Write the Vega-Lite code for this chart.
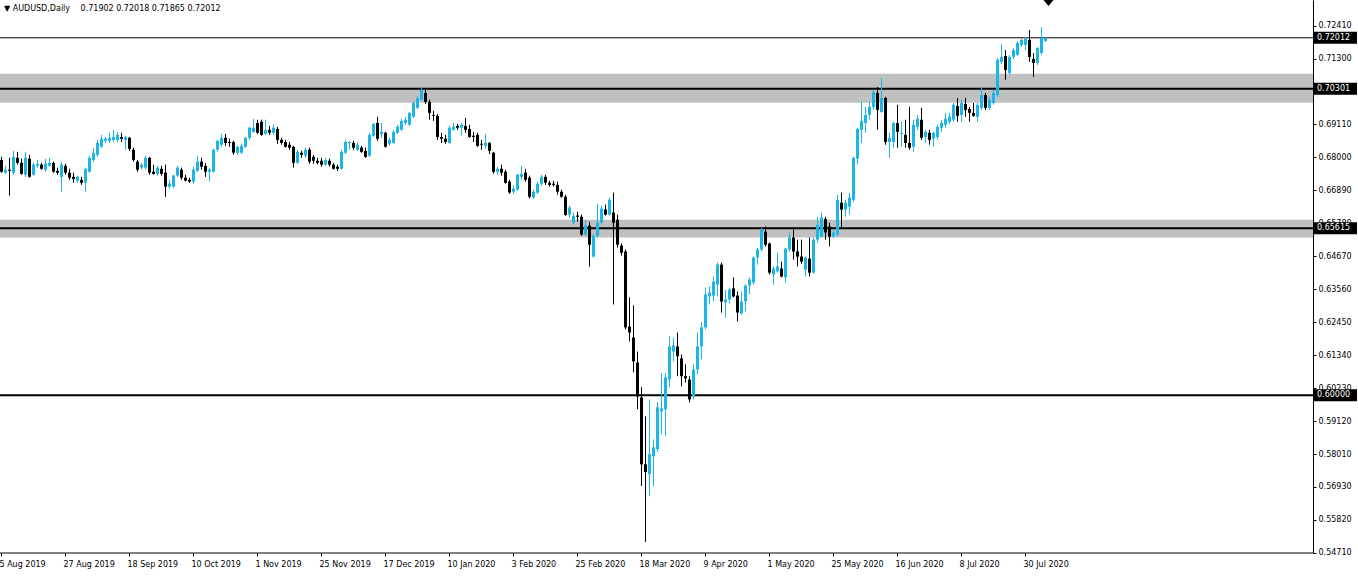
{
"$schema":"https://vega.github.io/schema/vega-lite/v6.json",
"width":1313,"height":553,
"autosize":{"type":"none"},
"padding":{"left":0,"top":0,"right":45,"bottom":24},
"background":"white",
"config":{"view":{"stroke":null},"font":"DejaVu Sans","axis":{"labelFont":"DejaVu Sans","labelFontSize":8,"labelColor":"black","labelOverlap":false},"axisY":{"labelOverlap":false,"labelBound":false,"labelFlush":false,"tickCount":100}},
"title":{"text":"▼ AUDUSD,Daily\u2003 0.71902 0.72018 0.71865 0.72012","anchor":"start","frame":"group","orient":"top","offset":-13,"fontSize":8,"font":"DejaVu Sans","fontWeight":"normal","color":"black","dx":4},
"datasets":{
"zones":[{"top":0.7080,"bottom":0.6983},{"top":0.6590,"bottom":0.6530}],
"levels":[{"price":0.70301},{"price":0.65615},{"price":0.60000}],
"bid":[{"price":0.72012}],
"tags":[{"price":0.72012},{"price":0.70301},{"price":0.65615},{"price":0.60000}],
"candles":[
{"d":"2019-08-05","o":0.6791,"h":0.6801,"l":0.6748,"c":0.6751},
{"d":"2019-08-06","o":0.6748,"h":0.6771,"l":0.6744,"c":0.6758},
{"d":"2019-08-07","o":0.6758,"h":0.6798,"l":0.6671,"c":0.6754},
{"d":"2019-08-08","o":0.6748,"h":0.6822,"l":0.6741,"c":0.6801},
{"d":"2019-08-09","o":0.6798,"h":0.6818,"l":0.6775,"c":0.6781},
{"d":"2019-08-12","o":0.6781,"h":0.6795,"l":0.6741,"c":0.6744},
{"d":"2019-08-13","o":0.6741,"h":0.6818,"l":0.6734,"c":0.6798},
{"d":"2019-08-14","o":0.6795,"h":0.6808,"l":0.6731,"c":0.6734},
{"d":"2019-08-15","o":0.6741,"h":0.6781,"l":0.6738,"c":0.6775},
{"d":"2019-08-16","o":0.6771,"h":0.6791,"l":0.6764,"c":0.6778},
{"d":"2019-08-19","o":0.6775,"h":0.6781,"l":0.6758,"c":0.6761},
{"d":"2019-08-20","o":0.6758,"h":0.6795,"l":0.6751,"c":0.6778},
{"d":"2019-08-21","o":0.6771,"h":0.6798,"l":0.6768,"c":0.6781},
{"d":"2019-08-22","o":0.6781,"h":0.6785,"l":0.6748,"c":0.6751},
{"d":"2019-08-23","o":0.6754,"h":0.6765,"l":0.6741,"c":0.6748},
{"d":"2019-08-26","o":0.6734,"h":0.6785,"l":0.6684,"c":0.6775},
{"d":"2019-08-27","o":0.6771,"h":0.6778,"l":0.6741,"c":0.6748},
{"d":"2019-08-28","o":0.6748,"h":0.6761,"l":0.6724,"c":0.6731},
{"d":"2019-08-29","o":0.6734,"h":0.6748,"l":0.6714,"c":0.6727},
{"d":"2019-08-30","o":0.6721,"h":0.6738,"l":0.6714,"c":0.6734},
{"d":"2019-09-02","o":0.6724,"h":0.6734,"l":0.6707,"c":0.6714},
{"d":"2019-09-03","o":0.6714,"h":0.6765,"l":0.6684,"c":0.6761},
{"d":"2019-09-04","o":0.6751,"h":0.6805,"l":0.6748,"c":0.6798},
{"d":"2019-09-05","o":0.6791,"h":0.6832,"l":0.6785,"c":0.6815},
{"d":"2019-09-06","o":0.6808,"h":0.6858,"l":0.6801,"c":0.6848},
{"d":"2019-09-09","o":0.6835,"h":0.6875,"l":0.6832,"c":0.6862},
{"d":"2019-09-10","o":0.6855,"h":0.6868,"l":0.6848,"c":0.6862},
{"d":"2019-09-11","o":0.6855,"h":0.6882,"l":0.6848,"c":0.6865},
{"d":"2019-09-12","o":0.6858,"h":0.6892,"l":0.6851,"c":0.6868},
{"d":"2019-09-13","o":0.6858,"h":0.6885,"l":0.6851,"c":0.6875},
{"d":"2019-09-16","o":0.6868,"h":0.6882,"l":0.6851,"c":0.6862},
{"d":"2019-09-17","o":0.6858,"h":0.6872,"l":0.6825,"c":0.6868},
{"d":"2019-09-18","o":0.6865,"h":0.6868,"l":0.6821,"c":0.6828},
{"d":"2019-09-19","o":0.6825,"h":0.6832,"l":0.6785,"c":0.6791},
{"d":"2019-09-20","o":0.6785,"h":0.6791,"l":0.6751,"c":0.6758},
{"d":"2019-09-23","o":0.6765,"h":0.6781,"l":0.6758,"c":0.6775},
{"d":"2019-09-24","o":0.6765,"h":0.6805,"l":0.6758,"c":0.6798},
{"d":"2019-09-25","o":0.6798,"h":0.6801,"l":0.6741,"c":0.6748},
{"d":"2019-09-26","o":0.6751,"h":0.6775,"l":0.6741,"c":0.6744},
{"d":"2019-09-27","o":0.6744,"h":0.6771,"l":0.6738,"c":0.6765},
{"d":"2019-09-30","o":0.6761,"h":0.6771,"l":0.6738,"c":0.6744},
{"d":"2019-10-01","o":0.6748,"h":0.6775,"l":0.6667,"c":0.6701},
{"d":"2019-10-02","o":0.6701,"h":0.6724,"l":0.6694,"c":0.6711},
{"d":"2019-10-03","o":0.6701,"h":0.6741,"l":0.6697,"c":0.6738},
{"d":"2019-10-04","o":0.6738,"h":0.6771,"l":0.6734,"c":0.6765},
{"d":"2019-10-07","o":0.6758,"h":0.6765,"l":0.6724,"c":0.6731},
{"d":"2019-10-08","o":0.6731,"h":0.6741,"l":0.6718,"c":0.6721},
{"d":"2019-10-09","o":0.6724,"h":0.6731,"l":0.6714,"c":0.6718},
{"d":"2019-10-10","o":0.6718,"h":0.6768,"l":0.6711,"c":0.6758},
{"d":"2019-10-11","o":0.6754,"h":0.6805,"l":0.6751,"c":0.6785},
{"d":"2019-10-14","o":0.6785,"h":0.6798,"l":0.6758,"c":0.6768},
{"d":"2019-10-15","o":0.6771,"h":0.6781,"l":0.6734,"c":0.6751},
{"d":"2019-10-16","o":0.6751,"h":0.6765,"l":0.6718,"c":0.6758},
{"d":"2019-10-17","o":0.6751,"h":0.6828,"l":0.6748,"c":0.6825},
{"d":"2019-10-18","o":0.6825,"h":0.6858,"l":0.6818,"c":0.6855},
{"d":"2019-10-21","o":0.6842,"h":0.6878,"l":0.6835,"c":0.6865},
{"d":"2019-10-22","o":0.6865,"h":0.6878,"l":0.6838,"c":0.6848},
{"d":"2019-10-23","o":0.6851,"h":0.6862,"l":0.6835,"c":0.6848},
{"d":"2019-10-24","o":0.6851,"h":0.6855,"l":0.6808,"c":0.6815},
{"d":"2019-10-25","o":0.6815,"h":0.6838,"l":0.6808,"c":0.6835},
{"d":"2019-10-28","o":0.6815,"h":0.6845,"l":0.6811,"c":0.6838},
{"d":"2019-10-29","o":0.6835,"h":0.6868,"l":0.6832,"c":0.6865},
{"d":"2019-10-30","o":0.6865,"h":0.6902,"l":0.6858,"c":0.6899},
{"d":"2019-10-31","o":0.6885,"h":0.6929,"l":0.6882,"c":0.6899},
{"d":"2019-11-01","o":0.6915,"h":0.6926,"l":0.6878,"c":0.6882},
{"d":"2019-11-04","o":0.6919,"h":0.6926,"l":0.6872,"c":0.6875},
{"d":"2019-11-05","o":0.6878,"h":0.6926,"l":0.6875,"c":0.6892},
{"d":"2019-11-06","o":0.6892,"h":0.6905,"l":0.6875,"c":0.6882},
{"d":"2019-11-07","o":0.6882,"h":0.6909,"l":0.6875,"c":0.6899},
{"d":"2019-11-08","o":0.6895,"h":0.6902,"l":0.6845,"c":0.6858},
{"d":"2019-11-11","o":0.6858,"h":0.6865,"l":0.6842,"c":0.6848},
{"d":"2019-11-12","o":0.6851,"h":0.6858,"l":0.6832,"c":0.6835},
{"d":"2019-11-13","o":0.6842,"h":0.6851,"l":0.6825,"c":0.6832},
{"d":"2019-11-14","o":0.6835,"h":0.6838,"l":0.6765,"c":0.6781},
{"d":"2019-11-15","o":0.6781,"h":0.6825,"l":0.6778,"c":0.6818},
{"d":"2019-11-18","o":0.6815,"h":0.6822,"l":0.6798,"c":0.6808},
{"d":"2019-11-19","o":0.6805,"h":0.6832,"l":0.6798,"c":0.6825},
{"d":"2019-11-20","o":0.6825,"h":0.6832,"l":0.6778,"c":0.6785},
{"d":"2019-11-21","o":0.6801,"h":0.6808,"l":0.6778,"c":0.6788},
{"d":"2019-11-22","o":0.6788,"h":0.6798,"l":0.6775,"c":0.6781},
{"d":"2019-11-25","o":0.6788,"h":0.6798,"l":0.6768,"c":0.6775},
{"d":"2019-11-26","o":0.6775,"h":0.6798,"l":0.6771,"c":0.6791},
{"d":"2019-11-27","o":0.6788,"h":0.6795,"l":0.6768,"c":0.6775},
{"d":"2019-11-28","o":0.6775,"h":0.6781,"l":0.6758,"c":0.6761},
{"d":"2019-11-29","o":0.6768,"h":0.6775,"l":0.6754,"c":0.6761},
{"d":"2019-12-02","o":0.6761,"h":0.6825,"l":0.6758,"c":0.6818},
{"d":"2019-12-03","o":0.6815,"h":0.6858,"l":0.6811,"c":0.6851},
{"d":"2019-12-04","o":0.6848,"h":0.6855,"l":0.6825,"c":0.6851},
{"d":"2019-12-05","o":0.6848,"h":0.6855,"l":0.6825,"c":0.6832},
{"d":"2019-12-06","o":0.6825,"h":0.6851,"l":0.6821,"c":0.6842},
{"d":"2019-12-09","o":0.6832,"h":0.6838,"l":0.6815,"c":0.6818},
{"d":"2019-12-10","o":0.6821,"h":0.6832,"l":0.6798,"c":0.6801},
{"d":"2019-12-11","o":0.6805,"h":0.6882,"l":0.6801,"c":0.6875},
{"d":"2019-12-12","o":0.6872,"h":0.6915,"l":0.6868,"c":0.6912},
{"d":"2019-12-13","o":0.6915,"h":0.6936,"l":0.6855,"c":0.6862},
{"d":"2019-12-16","o":0.6878,"h":0.6915,"l":0.6865,"c":0.6885},
{"d":"2019-12-17","o":0.6882,"h":0.6885,"l":0.6832,"c":0.6835},
{"d":"2019-12-18","o":0.6845,"h":0.6865,"l":0.6838,"c":0.6858},
{"d":"2019-12-19","o":0.6848,"h":0.6892,"l":0.6845,"c":0.6885},
{"d":"2019-12-20","o":0.6882,"h":0.6909,"l":0.6878,"c":0.6902},
{"d":"2019-12-23","o":0.6892,"h":0.6929,"l":0.6889,"c":0.6922},
{"d":"2019-12-24","o":0.6915,"h":0.6936,"l":0.6909,"c":0.6926},
{"d":"2019-12-26","o":0.6909,"h":0.6952,"l":0.6905,"c":0.6949},
{"d":"2019-12-27","o":0.6936,"h":0.6989,"l":0.6932,"c":0.6982},
{"d":"2019-12-30","o":0.6966,"h":0.7006,"l":0.6962,"c":0.6999},
{"d":"2019-12-31","o":0.6993,"h":0.7033,"l":0.6989,"c":0.7026},
{"d":"2020-01-02","o":0.7016,"h":0.7026,"l":0.6979,"c":0.6986},
{"d":"2020-01-03","o":0.6986,"h":0.6993,"l":0.6926,"c":0.6949},
{"d":"2020-01-06","o":0.6942,"h":0.6956,"l":0.6922,"c":0.6939},
{"d":"2020-01-07","o":0.6939,"h":0.6945,"l":0.6858,"c":0.6868},
{"d":"2020-01-08","o":0.6868,"h":0.6882,"l":0.6848,"c":0.6862},
{"d":"2020-01-09","o":0.6862,"h":0.6875,"l":0.6845,"c":0.6851},
{"d":"2020-01-10","o":0.6848,"h":0.6905,"l":0.6845,"c":0.6899},
{"d":"2020-01-13","o":0.6892,"h":0.6915,"l":0.6889,"c":0.6902},
{"d":"2020-01-14","o":0.6905,"h":0.6912,"l":0.6892,"c":0.6899},
{"d":"2020-01-15","o":0.6899,"h":0.6915,"l":0.6872,"c":0.6909},
{"d":"2020-01-16","o":0.6905,"h":0.6932,"l":0.6882,"c":0.6892},
{"d":"2020-01-17","o":0.6895,"h":0.6909,"l":0.6865,"c":0.6868},
{"d":"2020-01-20","o":0.6872,"h":0.6885,"l":0.6851,"c":0.6868},
{"d":"2020-01-21","o":0.6875,"h":0.6882,"l":0.6835,"c":0.6838},
{"d":"2020-01-22","o":0.6845,"h":0.6858,"l":0.6825,"c":0.6842},
{"d":"2020-01-23","o":0.6838,"h":0.6878,"l":0.6828,"c":0.6848},
{"d":"2020-01-24","o":0.6848,"h":0.6851,"l":0.6811,"c":0.6821},
{"d":"2020-01-27","o":0.6815,"h":0.6818,"l":0.6744,"c":0.6751},
{"d":"2020-01-28","o":0.6751,"h":0.6768,"l":0.6741,"c":0.6761},
{"d":"2020-01-29","o":0.6761,"h":0.6775,"l":0.6738,"c":0.6748},
{"d":"2020-01-30","o":0.6751,"h":0.6758,"l":0.6711,"c":0.6714},
{"d":"2020-01-31","o":0.6718,"h":0.6724,"l":0.6677,"c":0.6681},
{"d":"2020-02-03","o":0.6684,"h":0.6707,"l":0.6677,"c":0.6694},
{"d":"2020-02-04","o":0.6691,"h":0.6744,"l":0.6687,"c":0.6741},
{"d":"2020-02-05","o":0.6734,"h":0.6771,"l":0.6724,"c":0.6744},
{"d":"2020-02-06","o":0.6748,"h":0.6761,"l":0.6718,"c":0.6724},
{"d":"2020-02-07","o":0.6731,"h":0.6738,"l":0.6661,"c":0.6667},
{"d":"2020-02-10","o":0.6664,"h":0.6691,"l":0.6661,"c":0.6684},
{"d":"2020-02-11","o":0.6681,"h":0.6718,"l":0.6677,"c":0.6711},
{"d":"2020-02-12","o":0.6711,"h":0.6741,"l":0.6704,"c":0.6734},
{"d":"2020-02-13","o":0.6734,"h":0.6741,"l":0.6707,"c":0.6714},
{"d":"2020-02-14","o":0.6714,"h":0.6721,"l":0.6701,"c":0.6707},
{"d":"2020-02-17","o":0.6711,"h":0.6721,"l":0.6701,"c":0.6707},
{"d":"2020-02-18","o":0.6707,"h":0.6718,"l":0.6674,"c":0.6684},
{"d":"2020-02-19","o":0.6684,"h":0.6691,"l":0.6664,"c":0.6667},
{"d":"2020-02-20","o":0.6667,"h":0.6674,"l":0.6603,"c":0.6606},
{"d":"2020-02-21","o":0.6607,"h":0.6637,"l":0.6597,"c":0.6631},
{"d":"2020-02-24","o":0.6580,"h":0.6614,"l":0.6573,"c":0.6603},
{"d":"2020-02-25","o":0.6604,"h":0.6617,"l":0.6583,"c":0.6600},
{"d":"2020-02-26","o":0.6600,"h":0.6607,"l":0.6536,"c":0.6540},
{"d":"2020-02-27","o":0.6540,"h":0.6590,"l":0.6536,"c":0.6570},
{"d":"2020-02-28","o":0.6570,"h":0.6583,"l":0.6432,"c":0.6506},
{"d":"2020-03-02","o":0.6466,"h":0.6543,"l":0.6463,"c":0.6536},
{"d":"2020-03-03","o":0.6536,"h":0.6644,"l":0.6530,"c":0.6580},
{"d":"2020-03-04","o":0.6580,"h":0.6637,"l":0.6573,"c":0.6627},
{"d":"2020-03-05","o":0.6624,"h":0.6641,"l":0.6604,"c":0.6607},
{"d":"2020-03-06","o":0.6607,"h":0.6664,"l":0.6604,"c":0.6657},
{"d":"2020-03-09","o":0.6614,"h":0.6681,"l":0.6305,"c":0.6580},
{"d":"2020-03-10","o":0.6590,"h":0.6607,"l":0.6496,"c":0.6506},
{"d":"2020-03-11","o":0.6503,"h":0.6510,"l":0.6469,"c":0.6479},
{"d":"2020-03-12","o":0.6483,"h":0.6490,"l":0.6221,"c":0.6228},
{"d":"2020-03-13","o":0.6231,"h":0.6329,"l":0.6181,"c":0.6211},
{"d":"2020-03-16","o":0.6194,"h":0.6302,"l":0.6077,"c":0.6114},
{"d":"2020-03-17","o":0.6110,"h":0.6147,"l":0.5953,"c":0.5996},
{"d":"2020-03-18","o":0.5993,"h":0.6027,"l":0.5695,"c":0.5768},
{"d":"2020-03-19","o":0.5768,"h":0.5929,"l":0.5507,"c":0.5742},
{"d":"2020-03-20","o":0.5735,"h":0.5986,"l":0.5661,"c":0.5802},
{"d":"2020-03-23","o":0.5795,"h":0.5852,"l":0.5695,"c":0.5825},
{"d":"2020-03-24","o":0.5819,"h":0.5976,"l":0.5809,"c":0.5960},
{"d":"2020-03-25","o":0.5946,"h":0.6074,"l":0.5869,"c":0.5956},
{"d":"2020-03-26","o":0.5953,"h":0.6074,"l":0.5863,"c":0.6060},
{"d":"2020-03-27","o":0.6053,"h":0.6198,"l":0.6027,"c":0.6164},
{"d":"2020-03-30","o":0.6147,"h":0.6194,"l":0.6114,"c":0.6168},
{"d":"2020-03-31","o":0.6164,"h":0.6211,"l":0.6064,"c":0.6131},
{"d":"2020-04-01","o":0.6124,"h":0.6137,"l":0.6030,"c":0.6064},
{"d":"2020-04-02","o":0.6064,"h":0.6104,"l":0.6043,"c":0.6057},
{"d":"2020-04-03","o":0.6053,"h":0.6064,"l":0.5976,"c":0.5986},
{"d":"2020-04-06","o":0.5996,"h":0.6104,"l":0.5986,"c":0.6087},
{"d":"2020-04-07","o":0.6087,"h":0.6211,"l":0.6070,"c":0.6164},
{"d":"2020-04-08","o":0.6164,"h":0.6245,"l":0.6121,"c":0.6228},
{"d":"2020-04-09","o":0.6228,"h":0.6362,"l":0.6221,"c":0.6339},
{"d":"2020-04-10","o":0.6332,"h":0.6366,"l":0.6305,"c":0.6345},
{"d":"2020-04-13","o":0.6335,"h":0.6399,"l":0.6315,"c":0.6382},
{"d":"2020-04-14","o":0.6372,"h":0.6446,"l":0.6332,"c":0.6439},
{"d":"2020-04-15","o":0.6439,"h":0.6446,"l":0.6278,"c":0.6315},
{"d":"2020-04-16","o":0.6312,"h":0.6355,"l":0.6261,"c":0.6322},
{"d":"2020-04-17","o":0.6322,"h":0.6362,"l":0.6308,"c":0.6355},
{"d":"2020-04-20","o":0.6359,"h":0.6396,"l":0.6329,"c":0.6332},
{"d":"2020-04-21","o":0.6335,"h":0.6349,"l":0.6248,"c":0.6278},
{"d":"2020-04-22","o":0.6275,"h":0.6349,"l":0.6271,"c":0.6315},
{"d":"2020-04-23","o":0.6315,"h":0.6372,"l":0.6282,"c":0.6369},
{"d":"2020-04-24","o":0.6369,"h":0.6396,"l":0.6339,"c":0.6389},
{"d":"2020-04-27","o":0.6379,"h":0.6466,"l":0.6372,"c":0.6463},
{"d":"2020-04-28","o":0.6463,"h":0.6496,"l":0.6439,"c":0.6490},
{"d":"2020-04-29","o":0.6490,"h":0.6563,"l":0.6483,"c":0.6557},
{"d":"2020-04-30","o":0.6550,"h":0.6567,"l":0.6500,"c":0.6506},
{"d":"2020-05-01","o":0.6510,"h":0.6513,"l":0.6406,"c":0.6412},
{"d":"2020-05-04","o":0.6406,"h":0.6433,"l":0.6372,"c":0.6426},
{"d":"2020-05-05","o":0.6416,"h":0.6479,"l":0.6412,"c":0.6433},
{"d":"2020-05-06","o":0.6426,"h":0.6449,"l":0.6396,"c":0.6399},
{"d":"2020-05-07","o":0.6396,"h":0.6496,"l":0.6379,"c":0.6493},
{"d":"2020-05-08","o":0.6490,"h":0.6547,"l":0.6483,"c":0.6530},
{"d":"2020-05-11","o":0.6530,"h":0.6557,"l":0.6456,"c":0.6483},
{"d":"2020-05-12","o":0.6483,"h":0.6523,"l":0.6433,"c":0.6466},
{"d":"2020-05-13","o":0.6466,"h":0.6523,"l":0.6442,"c":0.6449},
{"d":"2020-05-14","o":0.6422,"h":0.6466,"l":0.6399,"c":0.6463},
{"d":"2020-05-15","o":0.6459,"h":0.6530,"l":0.6399,"c":0.6412},
{"d":"2020-05-18","o":0.6412,"h":0.6530,"l":0.6409,"c":0.6523},
{"d":"2020-05-19","o":0.6523,"h":0.6600,"l":0.6513,"c":0.6573},
{"d":"2020-05-20","o":0.6533,"h":0.6614,"l":0.6530,"c":0.6597},
{"d":"2020-05-21","o":0.6593,"h":0.6600,"l":0.6523,"c":0.6547},
{"d":"2020-05-22","o":0.6567,"h":0.6580,"l":0.6500,"c":0.6533},
{"d":"2020-05-25","o":0.6533,"h":0.6557,"l":0.6530,"c":0.6547},
{"d":"2020-05-26","o":0.6540,"h":0.6674,"l":0.6533,"c":0.6657},
{"d":"2020-05-27","o":0.6647,"h":0.6681,"l":0.6563,"c":0.6624},
{"d":"2020-05-28","o":0.6624,"h":0.6657,"l":0.6600,"c":0.6647},
{"d":"2020-05-29","o":0.6634,"h":0.6681,"l":0.6607,"c":0.6664},
{"d":"2020-06-01","o":0.6657,"h":0.6801,"l":0.6650,"c":0.6798},
{"d":"2020-06-02","o":0.6795,"h":0.6899,"l":0.6775,"c":0.6895},
{"d":"2020-06-03","o":0.6892,"h":0.6986,"l":0.6848,"c":0.6922},
{"d":"2020-06-04","o":0.6915,"h":0.6969,"l":0.6882,"c":0.6942},
{"d":"2020-06-05","o":0.6942,"h":0.6986,"l":0.6926,"c":0.6969},
{"d":"2020-06-08","o":0.6969,"h":0.7026,"l":0.6959,"c":0.7019},
{"d":"2020-06-09","o":0.7016,"h":0.7036,"l":0.6892,"c":0.6959},
{"d":"2020-06-10","o":0.6952,"h":0.7066,"l":0.6949,"c":0.6999},
{"d":"2020-06-11","o":0.6999,"h":0.7003,"l":0.6842,"c":0.6851},
{"d":"2020-06-12","o":0.6851,"h":0.6882,"l":0.6798,"c":0.6865},
{"d":"2020-06-15","o":0.6851,"h":0.6919,"l":0.6832,"c":0.6915},
{"d":"2020-06-16","o":0.6915,"h":0.6976,"l":0.6832,"c":0.6885},
{"d":"2020-06-17","o":0.6878,"h":0.6919,"l":0.6835,"c":0.6882},
{"d":"2020-06-18","o":0.6875,"h":0.6926,"l":0.6832,"c":0.6848},
{"d":"2020-06-19","o":0.6848,"h":0.6969,"l":0.6825,"c":0.6832},
{"d":"2020-06-22","o":0.6835,"h":0.6926,"l":0.6818,"c":0.6909},
{"d":"2020-06-23","o":0.6902,"h":0.6942,"l":0.6892,"c":0.6929},
{"d":"2020-06-24","o":0.6926,"h":0.6966,"l":0.6858,"c":0.6865},
{"d":"2020-06-25","o":0.6868,"h":0.6892,"l":0.6848,"c":0.6885},
{"d":"2020-06-26","o":0.6882,"h":0.6892,"l":0.6842,"c":0.6858},
{"d":"2020-06-29","o":0.6862,"h":0.6885,"l":0.6835,"c":0.6882},
{"d":"2020-06-30","o":0.6868,"h":0.6909,"l":0.6858,"c":0.6902},
{"d":"2020-07-01","o":0.6899,"h":0.6926,"l":0.6885,"c":0.6915},
{"d":"2020-07-02","o":0.6909,"h":0.6949,"l":0.6899,"c":0.6929},
{"d":"2020-07-03","o":0.6919,"h":0.6949,"l":0.6912,"c":0.6936},
{"d":"2020-07-06","o":0.6926,"h":0.6982,"l":0.6919,"c":0.6976},
{"d":"2020-07-07","o":0.6972,"h":0.6999,"l":0.6919,"c":0.6939},
{"d":"2020-07-08","o":0.6942,"h":0.6993,"l":0.6919,"c":0.6982},
{"d":"2020-07-09","o":0.6979,"h":0.6999,"l":0.6936,"c":0.6959},
{"d":"2020-07-10","o":0.6962,"h":0.6969,"l":0.6919,"c":0.6949},
{"d":"2020-07-13","o":0.6949,"h":0.6982,"l":0.6936,"c":0.6939},
{"d":"2020-07-14","o":0.6936,"h":0.6982,"l":0.6919,"c":0.6976},
{"d":"2020-07-15","o":0.6966,"h":0.7036,"l":0.6959,"c":0.7009},
{"d":"2020-07-16","o":0.7009,"h":0.7016,"l":0.6959,"c":0.6966},
{"d":"2020-07-17","o":0.6966,"h":0.7003,"l":0.6959,"c":0.6993},
{"d":"2020-07-20","o":0.6982,"h":0.7026,"l":0.6976,"c":0.7016},
{"d":"2020-07-21","o":0.7009,"h":0.7133,"l":0.7003,"c":0.7127},
{"d":"2020-07-22","o":0.7120,"h":0.7180,"l":0.7113,"c":0.7137},
{"d":"2020-07-23","o":0.7140,"h":0.7160,"l":0.7060,"c":0.7093},
{"d":"2020-07-24","o":0.7083,"h":0.7143,"l":0.7077,"c":0.7137},
{"d":"2020-07-27","o":0.7137,"h":0.7167,"l":0.7130,"c":0.7160},
{"d":"2020-07-28","o":0.7144,"h":0.7190,"l":0.7140,"c":0.7184},
{"d":"2020-07-29","o":0.7177,"h":0.7197,"l":0.7170,"c":0.7194},
{"d":"2020-07-30","o":0.7177,"h":0.7204,"l":0.7160,"c":0.7197},
{"d":"2020-07-31","o":0.7194,"h":0.7227,"l":0.7120,"c":0.7137},
{"d":"2020-08-03","o":0.7130,"h":0.7150,"l":0.7070,"c":0.7117},
{"d":"2020-08-04","o":0.7117,"h":0.7170,"l":0.7110,"c":0.7167},
{"d":"2020-08-05","o":0.7150,"h":0.7237,"l":0.7143,"c":0.7200},
{"d":"2020-08-06","o":0.71902,"h":0.72018,"l":0.71865,"c":0.72012}
]},
"layer":[
{"data":{"name":"zones"},"mark":{"type":"rect","color":"#c0c0c0"},
 "encoding":{"y":{"field":"top","type":"quantitative","scale":{"domain":[0.5470,0.73282],"nice":false,"zero":false},
   "axis":{"orient":"right","values":[0.7241,0.713,0.7022,0.6911,0.68,0.6689,0.6578,0.6467,0.6356,0.6245,0.6134,0.6023,0.5912,0.5801,0.5693,0.5582,0.5471],"tickCount":100,"format":".5f","tickSize":3,"tickColor":"black","labelPadding":2,"domainColor":"black","grid":false,"title":null,"labelFontSize":8,"labelBaseline":"middle","labelOverlap":false,"labelBound":false,"labelFlush":false,"labelSeparation":0}},
  "y2":{"field":"bottom"}}},
{"data":{"name":"levels"},"mark":{"type":"rule","color":"black","strokeWidth":2},"encoding":{"y":{"field":"price","type":"quantitative"}}},
{"data":{"name":"bid"},"mark":{"type":"rule","color":"black","strokeWidth":1},"encoding":{"y":{"field":"price","type":"quantitative"}}},
{"data":{"values":[{"price":0.5470}]},"mark":{"type":"rule","color":"black","strokeWidth":1},"encoding":{"y":{"field":"price","type":"quantitative"}}},
{"data":{"name":"candles"},"mark":{"type":"rule","strokeWidth":1},
 "encoding":{
  "x":{"field":"d","type":"ordinal","scale":{"type":"band","range":[-0.5,1047.5],"paddingInner":0,"paddingOuter":0},
   "axis":{"values":["2019-08-05","2019-08-27","2019-09-18","2019-10-10","2019-11-01","2019-11-25","2019-12-17","2020-01-10","2020-02-03","2020-02-25","2020-03-18","2020-04-09","2020-05-01","2020-05-25","2020-06-16","2020-07-08","2020-07-30"],
     "labelExpr":"utcFormat(toDate(datum.value), '%-d %b %Y')","labelAlign":"left","labelAngle":0,"labelPadding":4,"labelOffset":-2,"ticks":true,"tickSize":3,"tickColor":"black","domain":false,"grid":false,"labelOverlap":false,"labelFlush":false,"labelBound":false,"title":null,"labelFontSize":8}},
  "y":{"field":"l","type":"quantitative"},
  "y2":{"field":"h"},
  "color":{"condition":{"test":"datum.c >= datum.o","value":"#1db4e8"},"value":"black"}}},
{"data":{"name":"candles"},"mark":{"type":"bar","width":3},
 "encoding":{
  "x":{"field":"d","type":"ordinal"},
  "y":{"field":"o","type":"quantitative"},
  "y2":{"field":"c"},
  "color":{"condition":{"test":"datum.c >= datum.o","value":"#1db4e8"},"value":"black"}}},
{"data":{"values":[{"d":"2020-08-06"}]},"mark":{"type":"point","shape":"M-2,0L8,0L3,6Z","size":4,"filled":true,"color":"black","opacity":1,"strokeWidth":0},
 "encoding":{"x":{"field":"d","type":"ordinal"},"y":{"datum":0.73282}}},
{"data":{"name":"tags"},"mark":{"type":"point","shape":"M1,-6H44V6H1Z","size":4,"filled":true,"color":"black","opacity":1,"strokeWidth":0},
 "encoding":{"x":{"value":"width"},"y":{"field":"price","type":"quantitative"}}},
{"data":{"name":"tags"},"mark":{"type":"text","align":"left","baseline":"middle","dx":4,"color":"white","fontSize":8,"font":"DejaVu Sans"},
 "encoding":{"x":{"value":"width"},"y":{"field":"price","type":"quantitative"},"text":{"field":"price","type":"quantitative","format":".5f"}}}
]
}
